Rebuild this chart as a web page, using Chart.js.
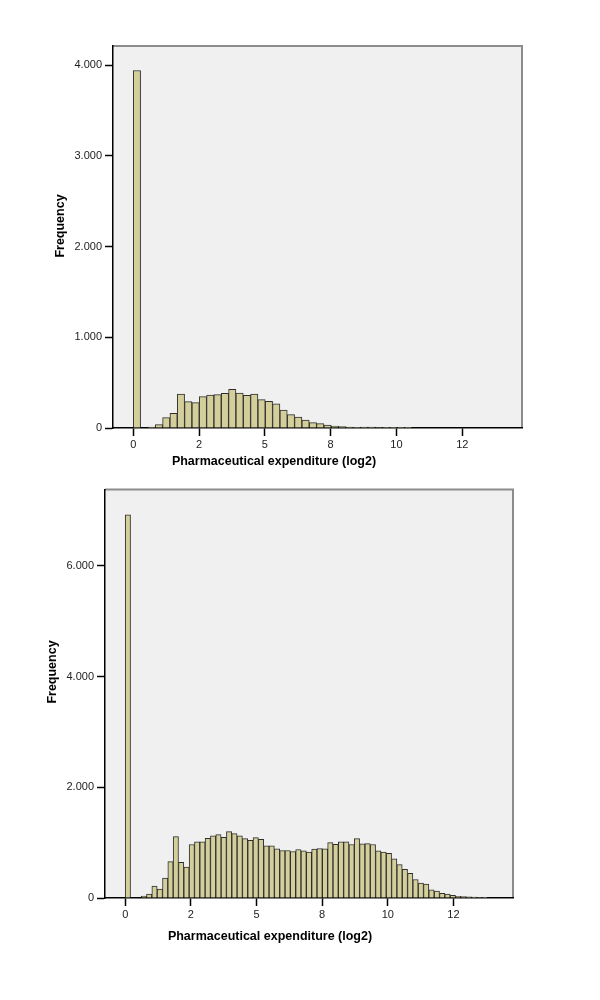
<!DOCTYPE html>
<html>
<head>
<meta charset="utf-8">
<script src="https://cdn.jsdelivr.net/npm/chart.js@4"></script>
<style>
    body { margin: 0; background: #fff; }
    .wrap { position: absolute; left: 0; }
</style>
</head>
<body>
<div class="wrap" style="top:0"><canvas id="topChart" width="600" height="480"></canvas></div>
<div class="wrap" style="top:480px"><canvas id="bottomChart" width="600" height="520"></canvas></div>
<script>
// shared axis text
const xTickValues = [0, 2.5, 5, 7.5, 10, 12.5];
const xTickLabels = ['0', '2', '5', '8', '10', '12'];
const xTitle = 'Pharmaceutical expenditure (log2)';
const yTitle = 'Frequency';

// top histogram: counts per bin, bins start at 0
const topBinWidth = 0.2786;
const topCounts = [3940, 0, 10, 37, 114, 162, 375, 290, 280, 345, 364, 368, 382, 426, 386, 360,
    375, 312, 294, 265, 198, 147, 121, 88, 59, 48, 33, 22, 15, 11, 8, 10, 10, 5, 3, 1, 2, 1];
const topYTicks = [0, 1000, 2000, 3000, 4000];

// bottom histogram
const bottomBinWidth = 0.2029;
const bottomCounts = [6920, 0, 0, 36, 72, 215, 161, 358, 656, 1109, 644, 560, 966, 1013, 1013, 1079,
    1121, 1144, 1097, 1198, 1162, 1121, 1073, 1043, 1091, 1061, 942, 942, 888, 858, 858, 840,
    876, 852, 828, 882, 894, 888, 1001, 971, 1013, 1013, 966, 1073, 977, 983, 966, 852,
    828, 805, 709, 602, 518, 447, 334, 268, 250, 149, 125, 83, 72, 48, 30, 24, 20, 15, 10, 6];
const bottomYTicks = [0, 2000, 4000, 6000];

const fontFamily = "Arial, 'Liberation Sans', sans-serif";

function formatThousands(v) {
    return String(v).replace(/\B(?=(\d{3})+(?!\d))/g, '.');
}

// plot background + grey top/right frame, then the two axis titles (SPSS puts them off-centre)
const framePlugin = {
    id: 'frame',
    beforeDraw(chart) {
        const { ctx, chartArea: a } = chart;
        ctx.save();
        ctx.fillStyle = '#f0f0f0';
        ctx.fillRect(a.left, a.top, a.right - a.left, a.bottom - a.top);
        ctx.strokeStyle = '#8c8c8c';
        ctx.lineWidth = 2;
        ctx.beginPath();
        ctx.moveTo(a.left, a.top);
        ctx.lineTo(a.right, a.top);
        ctx.lineTo(a.right, a.bottom);
        ctx.stroke();
        ctx.restore();
    },
    afterDraw(chart, args, opts) {
        const ctx = chart.ctx;
        ctx.save();
        ctx.fillStyle = '#000';
        ctx.font = 'bold 12.5px ' + fontFamily;
        ctx.textAlign = 'center';
        ctx.textBaseline = 'middle';
        ctx.fillText(xTitle, opts.xTitleX, opts.xTitleY);
        ctx.translate(opts.yTitleX, opts.yTitleY);
        ctx.rotate(-Math.PI / 2);
        ctx.fillText(yTitle, 0, 0);
        ctx.restore();
    }
};

function renderHistogram(id, counts, binWidth, yTicks, yMax, box) {
    new Chart(document.getElementById(id), {
        type: 'bar',
        data: {
            datasets: [{
                label: yTitle,
                data: counts.map((c, i) => ({ x: (i + 0.5) * binWidth, y: c })),
                backgroundColor: '#d4cf9a',
                borderColor: '#2e2e2e',
                borderWidth: 1,
                barPercentage: 1,
                categoryPercentage: 1
            }]
        },
        options: {
            responsive: false,
            animation: false,
            layout: { padding: { left: 0, right: box.right, top: box.top, bottom: 0 } },
            plugins: {
                legend: { display: false },
                tooltip: { enabled: false },
                frame: box.titles
            },
            scales: {
                x: {
                    type: 'linear',
                    min: -0.77,
                    max: 14.77,
                    offset: false,
                    afterBuildTicks: s => { s.ticks = xTickValues.map(v => ({ value: v })); },
                    afterFit: s => { s.height = box.xHeight; },
                    grid: { offset: false, drawOnChartArea: false, tickLength: 8, color: '#000', tickWidth: 1.5 },
                    border: { color: '#000', width: 1.5 },
                    ticks: {
                        autoSkip: false, maxRotation: 0, padding: 2, color: '#222',
                        font: { family: fontFamily, size: 11 },
                        callback: (v, i) => xTickLabels[i]
                    }
                },
                y: {
                    min: 0,
                    max: yMax,
                    afterBuildTicks: s => { s.ticks = yTicks.map(v => ({ value: v })); },
                    afterFit: s => { s.width = box.yWidth; },
                    grid: { drawOnChartArea: false, tickLength: 8, color: '#000', tickWidth: 1.5 },
                    border: { color: '#000', width: 1.5 },
                    ticks: {
                        padding: 3, color: '#222',
                        font: { family: fontFamily, size: 11 },
                        callback: v => formatThousands(v)
                    }
                }
            }
        },
        plugins: [framePlugin]
    });
}

renderHistogram('topChart', topCounts, topBinWidth, topYTicks, 4210,
    { right: 78, top: 46, yWidth: 113, xHeight: 52,
      titles: { xTitleX: 274, xTitleY: 462, yTitleX: 61, yTitleY: 226 } });
renderHistogram('bottomChart', bottomCounts, bottomBinWidth, bottomYTicks, 7375,
    { right: 87, top: 6, yWidth: 105, xHeight: 102,
      titles: { xTitleX: 270, xTitleY: 457, yTitleX: 53, yTitleY: 192 } });
</script>
</body>
</html>
